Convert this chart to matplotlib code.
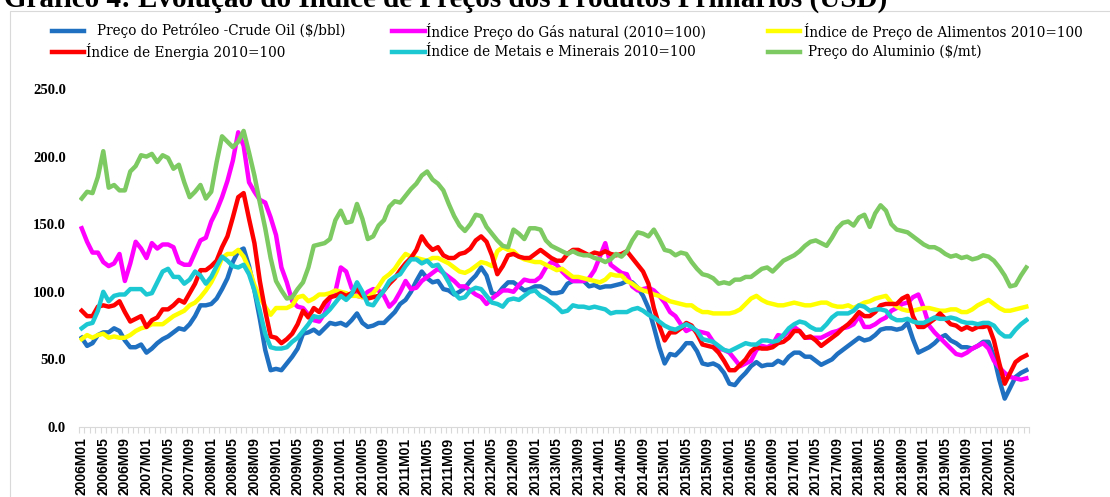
"""Primary commodity price indices, monthly 2006M01-2020M08 (USD)."""

import matplotlib
matplotlib.use("Agg")
import matplotlib.pyplot as plt
from matplotlib.lines import Line2D
from matplotlib.patches import Rectangle

TITLE = "Gráfico 4: Evolução do Índice de Preços dos Produtos Primários (USD)"

# monthly categories 2006M01 .. 2020M08
MONTHS = [f"{y}M{m:02d}" for y in range(2006, 2021) for m in range(1, 13)][:176]

OIL = [
    66, 60, 62, 68, 70, 70, 73, 71, 64, 59, 59, 61, 55, 58, 62, 65, 67, 70, 73, 72,
    76, 82, 90, 90, 91, 95, 102, 110, 122, 130, 132, 119, 101, 80, 57, 42, 43, 42, 47, 52,
    58, 69, 70, 72,
    69, 73, 77, 76, 77, 75, 79, 84, 77, 74, 75, 77, 77, 81, 85, 91, 94, 100, 108, 115,
    110, 107, 108, 102, 101, 98, 100, 103, 108, 112, 118, 112, 99, 98, 103, 107, 107, 104, 101, 102,
    104, 104, 102,
    99, 99, 100, 106, 108, 108, 108, 104, 105, 103, 104, 104, 105, 106, 108, 107, 103, 97, 88, 74,
    59, 47, 54, 53, 57, 62, 62, 56, 47, 46, 47, 45, 40, 32, 31, 36, 40, 45, 48, 45,
    46, 46, 49,
    47, 52, 55, 55, 52, 52, 49, 46, 48, 50, 54, 57, 60, 63, 66, 64, 65, 68, 72, 73,
    73, 72, 73, 77, 65, 55, 57, 59, 62, 66, 68, 64, 62, 59, 59, 58, 60, 63, 63, 52,
    35, 21, 29, 37, 40, 42,
]
GAS = [
    147, 137, 129, 129, 122, 119, 121, 128, 108, 121, 137, 132, 125, 136, 132, 135, 135, 133, 122, 120,
    120, 129, 138, 140, 152, 160, 170, 182, 197, 218, 208, 181, 174, 168, 166, 155, 142, 118, 107, 93,
    89, 88, 83, 79,
    78, 84, 95, 100, 118, 115, 103, 97, 96, 100, 102, 101, 97, 89, 93, 100, 108, 102, 103, 108,
    111, 114, 117, 114, 111, 108, 104, 104, 101, 98, 96, 91, 95, 98, 101, 101, 100, 105, 109, 108,
    108, 111, 118,
    122, 120, 115, 111, 108, 108, 108, 110, 116, 126, 136, 120, 117, 114, 113, 104, 101, 102, 103, 101,
    97, 92, 85, 82, 76, 71, 73, 71, 70, 69, 63, 58, 57, 55, 50, 45, 47, 49, 57, 60,
    59, 61, 68,
    67, 71, 74, 71, 66, 66, 66, 66, 68, 70, 71, 73, 74, 76, 82, 74, 74, 76, 79, 81,
    86, 88, 91, 92, 96, 98, 88, 75, 70, 66, 62, 58, 54, 53, 55, 58, 60, 62, 58, 49,
    44, 40, 37, 36, 35, 36,
]
FOOD = [
    65, 68, 66, 68, 69, 66, 67, 66, 66, 68, 71, 73, 74, 76, 76, 76, 79, 82, 84, 86,
    90, 92, 96, 101, 107, 115, 125, 128, 128, 131, 126, 117, 105, 96, 89, 83, 88, 88, 88, 90,
    96, 97, 93, 95,
    98, 98, 99, 101, 100, 99, 97, 97, 96, 96, 99, 104, 110, 113, 117, 123, 128, 126, 125, 124,
    123, 125, 125, 123, 121, 118, 115, 114, 116, 119, 122, 121, 119, 130, 133, 131, 130, 126, 124, 123,
    122, 122, 120,
    118, 116, 117, 114, 111, 111, 110, 109, 108, 107, 109, 113, 112, 112, 108, 106, 103, 101, 100, 98,
    97, 95, 93, 92, 91, 90, 90, 87, 85, 85, 84, 84, 84, 84, 85, 87, 91, 95, 97, 94,
    92, 91, 90,
    90, 91, 92, 91, 90, 90, 91, 92, 92, 90, 89, 89, 90, 88, 90, 92, 93, 95, 96, 97,
    92, 89, 87, 86, 86, 87, 88, 88, 87, 86, 86, 87, 87, 85, 85, 87, 90, 92, 94, 91,
    88, 86, 86, 87, 88, 89,
]
ENERGY = [
    86, 82, 82, 89, 90, 89, 90, 93, 85, 78, 80, 82, 74, 79, 81, 87, 87, 90, 94, 92,
    99, 106, 116, 116, 119, 123, 133, 141, 155, 170, 173, 154, 136, 108, 86, 67, 66, 62, 65, 69,
    76, 86, 81, 88,
    85, 92, 96, 97, 99, 97, 99, 102, 97, 95, 96, 97, 101, 106, 110, 116, 121, 125, 131, 141,
    135, 131, 133, 127, 125, 125, 128, 129, 132, 138, 141, 137, 127, 113, 119, 127, 128, 126, 125, 125,
    128, 131, 128,
    125, 123, 123, 128, 131, 131, 129, 127, 129, 128, 130, 128, 127, 128, 130, 125, 120, 115, 106, 88,
    75, 64, 70, 70, 73, 77, 75, 69, 61, 60, 59, 55, 49, 42, 42, 46, 50, 56, 59, 58,
    58, 59, 62,
    63, 66, 71, 71, 66, 67, 64, 60, 63, 66, 69, 73, 76, 80, 85, 82, 82, 85, 90, 91,
    91, 91, 95, 97, 82, 74, 74, 77, 80, 84, 80, 76, 75, 72, 74, 72, 74, 74, 75, 64,
    47, 32, 40, 48, 51, 53,
]
METALS = [
    73, 76, 77, 86, 100, 93, 97, 98, 98, 102, 102, 102, 98, 99, 107, 115, 117, 111, 111, 106,
    109, 115, 112, 106, 111, 119, 126, 123, 119, 118, 120, 113, 101, 86, 69, 59, 58, 58, 59, 63,
    66, 71, 76, 82,
    81, 83, 87, 92, 97, 94, 98, 107, 100, 91, 90, 96, 101, 108, 111, 113, 119, 124, 124, 121,
    123, 119, 120, 114, 107, 99, 95, 96, 101, 103, 102, 97, 92, 91, 89, 94, 95, 94, 97, 100,
    101, 97, 95,
    92, 89, 85, 86, 90, 89, 89, 88, 89, 88, 87, 84, 85, 85, 85, 87, 88, 86, 83, 81,
    78, 75, 73, 72, 74, 76, 74, 71, 65, 64, 63, 60, 57, 56, 58, 60, 62, 61, 61, 64,
    64, 63, 64,
    68, 73, 76, 78, 77, 74, 72, 72, 76, 81, 84, 84, 84, 86, 90, 89, 86, 87, 87, 86,
    81, 79, 79, 80, 78, 77, 77, 79, 81, 80, 80, 81, 80, 78, 77, 77, 76, 77, 77, 75,
    70, 67, 67, 72, 76, 79,
]
ALUMINIUM = [
    169, 174, 173, 185, 204, 177, 179, 175, 175, 189, 193, 201, 200, 202, 196, 201, 199, 191, 194, 181,
    170, 174, 179, 169, 174, 196, 215, 211, 207, 211, 219, 203, 186, 166, 147, 125, 108, 101, 95, 96,
    102, 107, 118, 134,
    135, 136, 139, 153, 160, 151, 152, 165, 154, 139, 141, 149, 153, 163, 167, 166, 171, 176, 180, 186,
    189, 183, 180, 175, 165, 156, 149, 145, 150, 157, 156, 148, 143, 138, 134, 133, 146, 143, 139, 147,
    147, 146, 138,
    134, 132, 130, 128, 130, 128, 127, 127, 125, 124, 122, 124, 128, 126, 130, 138, 144, 143, 141, 146,
    139, 131, 130, 127, 129, 128, 122, 117, 113, 112, 110, 106, 107, 106, 109, 109, 111, 111, 114, 117,
    118, 115, 119,
    123, 125, 127, 130, 134, 137, 138, 136, 134, 140, 147, 151, 152, 149, 155, 157, 148, 158, 164, 160,
    150, 146, 145, 144, 141, 138, 135, 133, 133, 131, 128, 126, 127, 125, 126, 124, 125, 127, 126, 123,
    118, 112, 104, 105, 112, 118,
]

SERIES = [
    ("Preço do Petróleo -Crude Oil ($/bbl)", OIL, "#1F70C1"),
    ("Índice Preço do Gás natural (2010=100)", GAS, "#FF00FF"),
    ("Índice de Preço de Alimentos 2010=100", FOOD, "#FFFF00"),
    ("Índice de Energia 2010=100", ENERGY, "#FF0000"),
    ("Índice de Metais e Minerais 2010=100", METALS, "#1CC8D2"),
    ("Preço do Aluminio ($/mt)", ALUMINIUM, "#7DC962"),
]

W, H = 1110, 497


def px(x, y):
    """pixel position (from top-left) -> figure fraction"""
    return x / W, 1 - y / H


def main() -> None:
    fig = plt.figure(figsize=(W / 100, H / 100), dpi=100)
    ax = fig.add_axes([79 / W, 1 - 427 / H, (1029 - 79) / W, (427 - 89) / H])

    x = list(range(len(MONTHS)))
    for label, vals, color in SERIES:
        ax.plot(x, vals, color=color, linewidth=3.2, solid_joinstyle="round")

    ax.set_xlim(-0.5, len(MONTHS) - 0.5)
    ax.set_ylim(0, 250)
    ax.set_yticks(range(0, 251, 50))
    ax.set_yticklabels([f"{v:.1f}" for v in range(0, 251, 50)],
                       fontfamily="Liberation Serif", fontweight="bold", fontsize=10.5)
    ax.tick_params(axis="y", length=0, pad=9.5)

    ax.set_xticks(x[::4])
    ax.set_xticklabels(MONTHS[::4], rotation=90, fontfamily="Liberation Sans",
                       fontweight="bold", fontsize=10)
    ax.set_xticks([i - 0.5 for i in range(len(MONTHS) + 1)], minor=True)
    ax.tick_params(axis="x", which="major", length=0, pad=7.5)
    ax.tick_params(axis="x", which="minor", length=4, color="#D9D9D9", width=0.8)

    for side in ("top", "right", "left"):
        ax.spines[side].set_visible(False)
    ax.spines["bottom"].set_color("#D9D9D9")
    ax.spines["bottom"].set_linewidth(0.8)

    # chart-area border (cropped at the right and bottom in the source)
    x0, y0 = px(10, 11)
    fig.add_artist(Rectangle((x0, -0.2), 1.2, y0 + 0.2, transform=fig.transFigure,
                             fill=False, edgecolor="#D9D9D9", linewidth=0.8))

    # title, cut off at the top like the source image
    tx, ty = px(4, 6.5)
    fig.text(tx, ty, TITLE, fontfamily="Liberation Serif", fontweight="bold",
             fontsize=21, va="baseline", ha="left")

    # legend, laid out in two rows of three
    handle_x = [(52, 84), (392, 425), (768, 800)]
    text_x = [97, 426, 804, 86, 426, 808]
    rows = [31, 52]
    for i, (label, _, color) in enumerate(SERIES):
        r, c = divmod(i, 3)
        hx0, yy = px(handle_x[c][0], rows[r])
        hx1, _ = px(handle_x[c][1], rows[r])
        fig.add_artist(Line2D([hx0, hx1], [yy, yy], color=color, linewidth=3.2,
                              transform=fig.transFigure))
        lx, _ = px(text_x[i], rows[r])
        fig.text(lx, yy, label, fontfamily="DejaVu Serif", fontsize=9.8, va="center", ha="left")

    fig.savefig("out.png", dpi=100)


if __name__ == "__main__":
    main()
